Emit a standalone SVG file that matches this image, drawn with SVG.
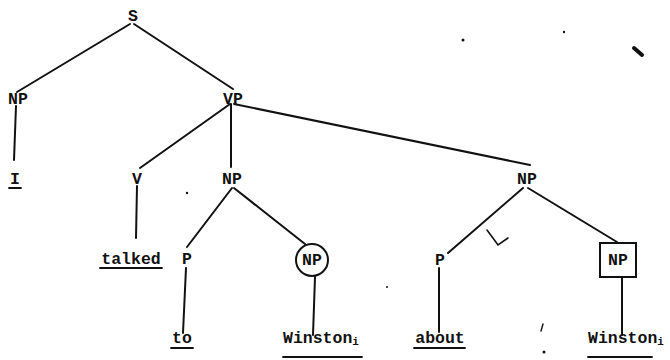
<svg xmlns="http://www.w3.org/2000/svg" width="670" height="360" viewBox="0 0 670 360">
<style>
text{font-family:"Liberation Mono","Courier New",monospace;font-size:16.5px;font-weight:bold;fill:#111;text-anchor:middle}
.sub{font-size:11px}
line,path,.box,circle{stroke:#111;stroke-width:2;fill:none;stroke-linecap:round}
.ul{stroke-width:1.8}
circle.mark{fill:#111;stroke:none}
</style>
<rect x="0" y="0" width="670" height="360" fill="#fff"/>
<g id="connectors">
<line x1="130" y1="24" x2="17" y2="92"/>
<line x1="134" y1="24" x2="233" y2="89"/>
<line x1="16" y1="106" x2="14" y2="160"/>
<line x1="230" y1="104" x2="140" y2="168"/>
<line x1="231" y1="104" x2="231" y2="167"/>
<line x1="234" y1="104" x2="530" y2="165"/>
<line x1="137" y1="186" x2="136" y2="238"/>
<line x1="232" y1="188" x2="187" y2="247"/>
<line x1="234" y1="188" x2="305" y2="244"/>
<line x1="186" y1="268" x2="183" y2="333"/>
<line x1="315" y1="277" x2="313" y2="335"/>
<line x1="523" y1="188" x2="448" y2="253"/>
<line x1="528" y1="188" x2="617" y2="242"/>
<line x1="439" y1="268" x2="439" y2="332"/>
<line x1="622" y1="278" x2="622" y2="335"/>
</g>
<g id="n-S"><text x="133" y="21">S</text></g>
<g id="n-NP1"><text x="18" y="104">NP</text></g>
<g id="n-VP"><text x="233" y="104">VP</text></g>
<g id="n-I"><text x="15" y="184">I</text><line class="ul" x1="9" y1="188" x2="21" y2="188"/></g>
<g id="n-V"><text x="137" y="184">V</text></g>
<g id="n-NP2"><text x="232" y="184">NP</text></g>
<g id="n-NP3"><text x="527" y="184">NP</text></g>
<g id="n-talked"><text x="131" y="264">talked</text><line class="ul" x1="100" y1="268" x2="162" y2="268"/></g>
<g id="n-P1"><text x="187" y="264">P</text></g>
<g id="n-NP4"><circle cx="312" cy="260" r="16"/><text x="312" y="265">NP</text></g>
<g id="n-P2"><text x="440" y="265">P</text></g>
<g id="n-NP5"><rect class="box" x="600" y="243" width="36" height="34"/><text x="618" y="265">NP</text></g>
<g id="n-to"><text x="182" y="343">to</text><line class="ul" x1="171" y1="348" x2="193" y2="348"/></g>
<g id="n-Winston1"><text x="283" y="343" style="text-anchor:start">Winston<tspan class="sub" dy="2">i</tspan></text><line class="ul" x1="283" y1="357" x2="362" y2="357"/></g>
<g id="n-about"><text x="440" y="343">about</text><line class="ul" x1="414" y1="348" x2="465" y2="348"/></g>
<g id="n-Winston2"><text x="588" y="343" style="text-anchor:start">Winston<tspan class="sub" dy="2">i</tspan></text><line class="ul" x1="588" y1="357" x2="652" y2="357"/></g>
<g id="marks">
<path d="M487 230 L498 245 L508 238" style="stroke-width:1.6"/>
<line x1="543" y1="324" x2="541" y2="331" style="stroke-width:1.4"/>
<circle class="mark" cx="544" cy="352" r="1.5"/>
<circle class="mark" cx="187" cy="193" r="1.2"/>
<circle class="mark" cx="463" cy="40" r="1.5"/>
<circle class="mark" cx="564" cy="32" r="1.2"/>
<path d="M634 48 L642 55" style="stroke-width:4"/>
<circle class="mark" cx="387" cy="287" r="1"/>
</g>
</svg>
